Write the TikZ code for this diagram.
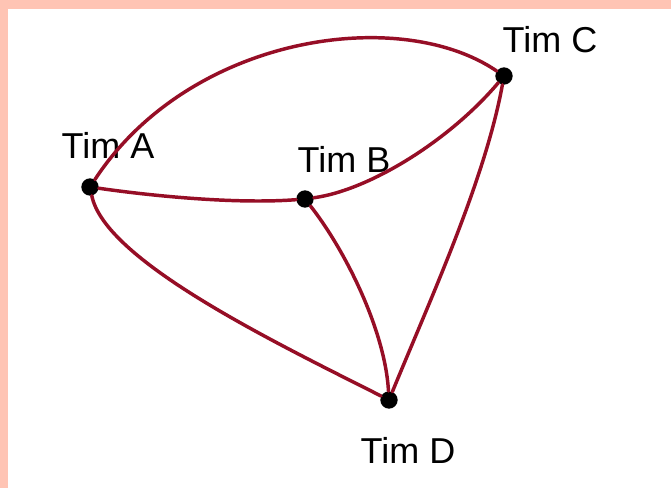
\documentclass[tikz,border=0pt]{standalone}
\usepackage{fontspec}
\setmainfont{Liberation Sans}
\definecolor{bgpink}{RGB}{255,196,180}
\definecolor{linkred}{RGB}{150,14,38}

\begin{document}
\begin{tikzpicture}[
  x=0.75pt,y=-0.75pt,
  every node/.style={align=center},
  tim/.style={circle,fill=black,inner sep=0pt,minimum size=13pt},
  lbl/.style={font=\fontsize{27}{30}\selectfont},
  link/.style={draw=linkred,line width=2.6pt,line cap=round}
]
% paper with the pink frame
\fill[bgpink] (0,0) rectangle (671,488);
\fill[white] (8,9) rectangle (671,488);
\useasboundingbox (0,0) rectangle (671,488);

\node[tim] (a) at (90,187) {};
\node[tim] (b) at (305,199) {};
\node[tim] (c) at (504,76) {};
\node[tim] (d) at (389,400) {};

\node[lbl] (la) at (108,145) {Tim A};
\node[lbl] (lb) at (344,159) {Tim B};
\node[lbl] (lc) at (550,40) {Tim C};
\node[lbl] (ld) at (408,450) {Tim D};

\draw[link] (a) .. controls (190,35) and (400,5) .. (c);
\draw[link] (a) .. controls (160,197) and (240,204) .. (b);
\draw[link] (b) .. controls (370,190) and (450,140) .. (c);
\draw[link] (a) .. controls (105,260) and (270,340) .. (d);
\draw[link] (b) .. controls (345,250) and (385,330) .. (d);
\draw[link] (c) .. controls (485,180) and (430,300) .. (d);
\end{tikzpicture}
\end{document}
